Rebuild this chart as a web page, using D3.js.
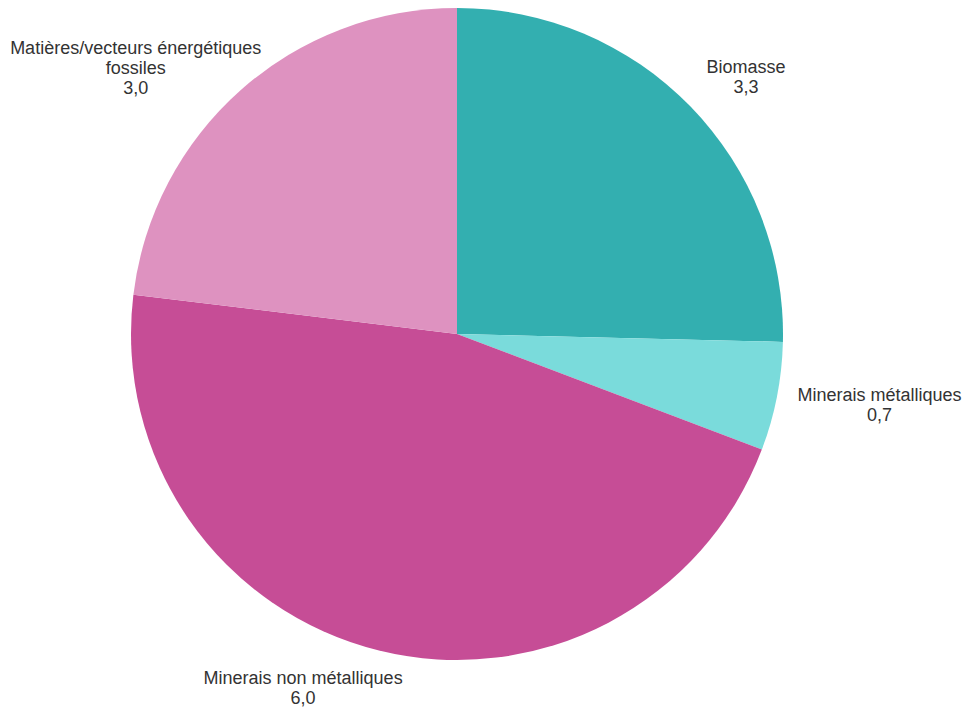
<!DOCTYPE html>
<html>
<head>
<meta charset="utf-8">
<script src="https://cdn.jsdelivr.net/npm/d3@7"></script>
<style>
  html, body { margin: 0; padding: 0; background: #ffffff; }
  svg { display: block; }
</style>
</head>
<body>
<svg id="chart" width="964" height="708"></svg>
<script>
const categories = ["Biomasse", "Minerais métalliques", "Minerais non métalliques", "Matières/vecteurs énergétiques fossiles"];
const labelLines = [["Biomasse"], ["Minerais métalliques"], ["Minerais non métalliques"], ["Matières/vecteurs énergétiques", "fossiles"]];
const values = [3.3, 0.7, 6.0, 3.0];
const valueLabels = ["3,3", "0,7", "6,0", "3,0"];
const colors = ["#33AFB0", "#7ADBDB", "#C64D96", "#DE92C0"];

const svg = d3.select("#chart");
const cx = 457, cy = 334, r = 326;
const g = svg.append("g").attr("transform", `translate(${cx},${cy})`);

const data = categories.map((c, i) => ({ name: c, value: values[i], lines: labelLines[i], label: valueLabels[i], color: colors[i] }));
const pie = d3.pie().value(d => d.value).sort(null);
const arcs = pie(data);
const arc = d3.arc().innerRadius(0).outerRadius(r);
const labelArc = d3.arc().innerRadius(r + 26).outerRadius(r + 26);

g.selectAll("path.slice").data(arcs).join("path")
  .attr("class", "slice")
  .attr("d", arc)
  .attr("fill", d => d.data.color);

const fontSize = 18, lineH = 20, capH = 13;
g.selectAll("text.lbl").data(arcs).join("text")
  .attr("class", "lbl")
  .attr("font-family", "Liberation Sans, Arial, sans-serif")
  .attr("font-size", fontSize)
  .attr("fill", "#333333")
  .attr("text-anchor", "middle")
  .each(function(d) {
    const [x, y] = labelArc.centroid(d);
    const mid = (d.startAngle + d.endAngle) / 2;
    const right = Math.sin(mid) >= 0;
    const c = Math.cos(mid);
    const allLines = d.data.lines.concat([d.data.label]);
    const n = allLines.length;
    const t = d3.select(this);
    let w = 0;
    allLines.forEach(ln => {
      const tmp = t.append("tspan").text(ln);
      w = Math.max(w, tmp.node().getComputedTextLength());
      tmp.remove();
    });
    const h = (n - 1) * lineH + capH;
    const left = x - w * (right ? 0.03 : 0.85);
    const frac = right ? 0.5 + 0.5 * c : 0.5 + (c < 0 ? 0.37 : 0.07) * c;
    const top = y - h * frac;
    allLines.forEach((ln, i) => {
      t.append("tspan").attr("x", left + w / 2).attr("y", top + capH + i * lineH).text(ln);
    });
  });
</script>
</body>
</html>
